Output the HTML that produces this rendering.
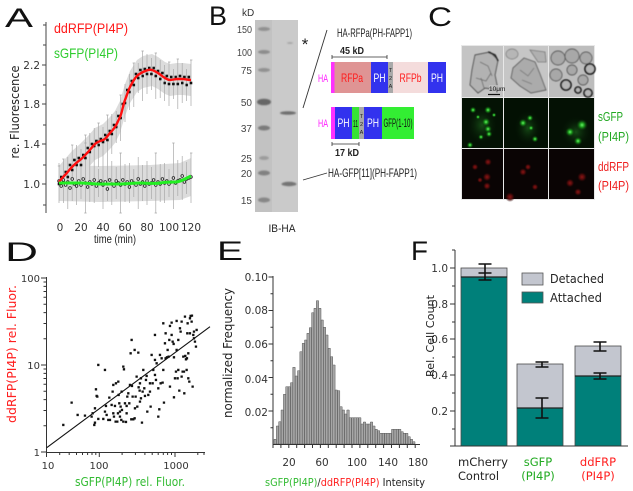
<!DOCTYPE html>
<html><head><meta charset="utf-8"><style>
html,body{margin:0;padding:0;background:#fff;}
svg{display:block;}
.t{font-family:"DejaVu Sans","Liberation Sans",sans-serif;}
.n{font-family:"Liberation Sans",sans-serif;}
.L{font-family:"Liberation Sans",sans-serif;font-size:27px;fill:#111;}
</style></head><body>
<svg width="633" height="491" viewBox="0 0 633 491" xmlns="http://www.w3.org/2000/svg">
<defs>
<marker id="sq" markerUnits="userSpaceOnUse" markerWidth="4" markerHeight="4" refX="1.3" refY="1.3"><rect x="0" y="0" width="2.6" height="2.6" fill="#111"/></marker>
<marker id="ci" markerUnits="userSpaceOnUse" markerWidth="5" markerHeight="5" refX="2" refY="2"><circle cx="2" cy="2" r="1.3" fill="#fff" stroke="#222" stroke-width="0.8"/></marker>
<radialGradient id="gg"><stop offset="0" stop-color="#66ee66"/><stop offset="0.35" stop-color="#1fa01f"/><stop offset="1" stop-color="#062806" stop-opacity="0"/></radialGradient>
<radialGradient id="gh"><stop offset="0" stop-color="#1a5a1a" stop-opacity="0.8"/><stop offset="1" stop-color="#041204" stop-opacity="0"/></radialGradient>
<radialGradient id="rr"><stop offset="0" stop-color="#a01818"/><stop offset="0.5" stop-color="#5a0c0c"/><stop offset="1" stop-color="#200505" stop-opacity="0"/></radialGradient>
<filter id="bl"><feGaussianBlur stdDeviation="0.7"/></filter>
<filter id="bl2"><feGaussianBlur stdDeviation="0.5"/></filter>
</defs>
<rect width="633" height="491" fill="#fff"/>

<!-- ===== Panel A ===== -->
<text class="L" x="5" y="27" textLength="28" lengthAdjust="spacingAndGlyphs">A</text>
<polygon fill="#dcdcdc" points="59,166 65,159 72,151 80,144 88,136 95,128 103,124 110,117 115,111 120,101 125,84 130,71 137,60 143,56 152,54 158,57 165,62 170,64 177,63 183,63 191,64 191,96 183,95 177,95 170,96 165,94 158,89 152,86 143,88 137,92 130,103 125,116 120,133 115,143 110,149 103,156 95,160 88,168 80,176 72,183 65,191 59,198"/>
<polygon fill="#dcdcdc" points="59,165 100,166 150,165 180,163 191,158 191,196 180,200 150,201 100,202 59,201"/>
<path fill="none" stroke="#a8a8a8" stroke-width="0.7" d="M59 166V202M63.4 159V203M67.8 162V192M72.2 145V195M76.6 145V185M81 149V181M85.4 135V181M89.8 133V171M94.2 128V164M98.6 123V167M103 127V157M107.4 115V165M111.8 114V154M116.2 111V143M120.6 95V141M125 84V122M129.4 74V110M133.8 63V107M138.2 63V93M142.6 51V101M147 54V94M151.4 58V90M155.8 53V99M160.2 60V98M164.6 65V101M169 62V106M173.4 69V99M177.8 59V109M182.2 63V103M186.6 69V101M191 60V106
M57.8 166h2.4M62.2 159h2.4M71 145h2.4M84.2 135h2.4M97.4 123h2.4M106.2 115h2.4M119.4 95h2.4M132.6 63h2.4M141.4 51h2.4M154.6 53h2.4M168 62h2.4M176.6 59h2.4M190 60h2.4
M59 163V203M63.4 169V197M67.8 157V209M72.2 165V201M76.6 161V205M81 167V199M85.4 143V213M89.8 164V202M94.2 163V203M98.6 169V197M103 157V209M107.4 165V201M111.8 161V205M116.2 167V199M120.6 153V213M125 164V202M129.4 163V203M133.8 169V197M138.2 157V209M142.6 165V201M147 161V205M151.4 167V199M155.8 153V213M160.2 164V202M164.6 163V203M169 169V197M173.4 143V209M177.8 160V196M182.2 156V200M186.6 162V194M191 153V203
M84.2 143h2.4M119.4 153h2.4M154.6 153h2.4M172.2 143h2.4M190 153h2.4M84.2 213h2.4M119.4 213h2.4M154.6 213h2.4"/>
<path fill="none" stroke="none" marker-start="url(#sq)" marker-mid="url(#sq)" marker-end="url(#sq)" d="M59 184L61.2 177L63.4 181L65.6 172L67.8 177L70 165L72.2 170L74.4 160L76.6 165L78.8 158L81 165L83.2 155L85.4 158L87.6 148L89.8 152L92 144L94.2 146L96.4 141L98.6 145L100.8 139L103 142L105.2 135L107.4 140L109.6 131L111.8 134L114 125L116.2 127L118.4 116L120.6 118L122.8 104L125 103L127.2 90L129.4 92L131.6 81L133.8 85L136 74L138.2 78L140.4 70L142.6 76L144.8 69L147 74L149.2 68L151.4 74L153.6 68L155.8 76L158 71L160.2 79L162.4 73L164.6 83L166.8 76L169 84L171.2 77L173.4 84L175.6 77L177.8 84L180 76L182.2 83L184.4 77L186.6 85L188.8 77L191 83"/>
<path fill="none" stroke="none" marker-start="url(#ci)" marker-mid="url(#ci)" marker-end="url(#ci)" d="M59 181L61.2 186L63.4 180L65.6 185L67.8 182L70 188L72.2 179L74.4 184L76.6 186L78.8 181L81 185L83.2 179L85.4 183L87.6 187L89.8 182L92 184L94.2 180L96.4 186L98.6 183L100.8 181L103 185L105.2 182L107.4 189L109.6 180L111.8 184L114 186L116.2 181L118.4 183L120.6 185L122.8 180L125 184L127.2 182L129.4 187L131.6 181L133.8 183L136 185L138.2 179L140.4 184L142.6 182L144.8 186L147 181L149.2 184L151.4 183L153.6 180L155.8 185L158 182L160.2 184L162.4 179L164.6 183L166.8 181L169 184L171.2 182L173.4 178L175.6 183L177.8 181L180 180L182.2 176L184.4 182L186.6 179L188.8 178L191 177"/>
<path fill="none" stroke="#ff1010" stroke-width="2.4" stroke-linejoin="round" d="M59 182C62 178 63 177 65 175S70 169 72 167S77 162 80 160S86 154 88 152S93 146 95 144S100 141 103 140S108 135 110 133S113 130 115 127S118 121 120 117S123 105 125 100S128 91 130 87S135 78 137 76S141 73 143 72S149 69 152 70S156 72 158 73S163 77 165 78S168 80 170 80S175 79 177 79S181 79 183 79S188 80 191 80"/>
<path fill="none" stroke="#22ee22" stroke-width="3" d="M59 183C70 183 75 183 80 183S95 184 100 184S115 184 120 184S135 183 140 183S155 184 160 183S172 182 175 182S183 180 185 179S189 177 191 176"/>
<path fill="none" stroke="#444" stroke-width="1" d="M46 22V213M42 65h4M42 104h4M42 144h4M42 184h4M43 25h3M43 45h3M43 85h3M43 125h3M43 165h3M43 205h3"/>
<g class="t" font-size="10.5" text-anchor="end" fill="#333"><text x="40" y="69">2.2</text><text x="40" y="108">1.8</text><text x="40" y="148">1.4</text><text x="40" y="188">1.0</text></g>
<g class="t" font-size="10.5" text-anchor="middle" fill="#333"><text x="60" y="231">0</text><text x="81" y="231">20</text><text x="103" y="231">40</text><text x="125" y="231">60</text><text x="147" y="231">80</text><text x="169" y="231">100</text><text x="191" y="231">120</text></g>
<text class="n" x="115" y="243" font-size="12" text-anchor="middle" fill="#222" textLength="42" lengthAdjust="spacingAndGlyphs">time (min)</text>
<text class="t" transform="translate(19,112) rotate(-90)" font-size="12.5" text-anchor="middle" textLength="93" lengthAdjust="spacingAndGlyphs" fill="#222">re. Fluorescence</text>
<text class="n" x="54" y="33" font-size="14" fill="#ff1a1a" textLength="74" lengthAdjust="spacingAndGlyphs">ddRFP(PI4P)</text>
<text class="n" x="54" y="58" font-size="14" fill="#2ecc2e" textLength="64" lengthAdjust="spacingAndGlyphs">sGFP(PI4P)</text>

<!-- ===== Panel B ===== -->
<text class="L" x="209" y="25" textLength="18" lengthAdjust="spacingAndGlyphs">B</text>
<text class="n" x="242" y="16" font-size="10" fill="#333">kD</text>
<g class="n" font-size="10" fill="#444" text-anchor="end">
<text x="252" y="33" textLength="15" lengthAdjust="spacingAndGlyphs">150</text>
<text x="252" y="56" textLength="15" lengthAdjust="spacingAndGlyphs">100</text>
<text x="252" y="74">75</text><text x="252" y="106">50</text><text x="252" y="132">37</text>
<text x="252" y="162">25</text><text x="252" y="177">20</text><text x="252" y="204">15</text></g>
<rect x="255" y="20" width="43" height="192" fill="#cacaca"/>
<rect x="255" y="20" width="17" height="192" fill="#c2c2c2"/>
<g fill="#555" filter="url(#bl)">
<ellipse cx="264" cy="29" rx="6" ry="2" opacity="0.45"/>
<ellipse cx="264" cy="52" rx="6" ry="2" opacity="0.5"/>
<ellipse cx="264" cy="70" rx="6" ry="2" opacity="0.45"/>
<ellipse cx="264" cy="102" rx="7" ry="3.3" opacity="0.85"/>
<ellipse cx="264" cy="128" rx="6" ry="2.5" opacity="0.65"/>
<ellipse cx="264" cy="158" rx="5" ry="2" opacity="0.35"/>
<ellipse cx="264" cy="173" rx="6" ry="2.5" opacity="0.6"/>
<ellipse cx="264" cy="200" rx="6" ry="2.5" opacity="0.55"/>
<ellipse cx="288" cy="113" rx="8" ry="1.8" opacity="0.8"/>
<ellipse cx="289" cy="184" rx="7.5" ry="2.2" opacity="0.75"/>
<ellipse cx="290" cy="43" rx="3" ry="1" opacity="0.3"/>
</g>
<text x="305" y="50" font-family="Liberation Sans,sans-serif" font-size="17" text-anchor="middle" fill="#222">*</text>
<path stroke="#333" stroke-width="0.9" d="M303 108L327 30M303 180L327 173"/>
<text class="n" x="337" y="37" font-size="12" fill="#222" textLength="75" lengthAdjust="spacingAndGlyphs">HA-RFPa(PH-FAPP1)</text>
<path stroke="#333" stroke-width="0.8" fill="none" d="M332 57H387M332 55v4M387 55v4M332 144H359M332 142v4M359 142v4"/>
<text class="n" x="352" y="54" font-size="10" font-weight="bold" text-anchor="middle" fill="#222" textLength="24" lengthAdjust="spacingAndGlyphs">45 kD</text>
<text class="n" x="347" y="156" font-size="10" font-weight="bold" text-anchor="middle" fill="#222" textLength="24" lengthAdjust="spacingAndGlyphs">17 kD</text>
<rect x="331" y="62" width="3.5" height="31" fill="#ff30ff"/>
<rect x="334.5" y="62" width="36.5" height="31" fill="#df9494"/>
<rect x="371" y="62" width="17" height="31" fill="#3232ee"/>
<rect x="388" y="62" width="5" height="31" fill="#a9a9a9"/>
<rect x="393" y="62" width="35" height="31" fill="#f4dcdc"/>
<rect x="428" y="62" width="18" height="31" fill="#3232ee"/>
<g class="n" font-size="12" text-anchor="middle">
<text x="318" y="82" fill="#ff20ff" font-size="11" text-anchor="start" textLength="10" lengthAdjust="spacingAndGlyphs">HA</text>
<text x="352" y="82" fill="#ff1a1a" textLength="22" lengthAdjust="spacingAndGlyphs">RFPa</text>
<text x="379.5" y="82" fill="#fff" textLength="12" lengthAdjust="spacingAndGlyphs">PH</text>
<text x="410.5" y="82" fill="#ff1a1a" textLength="22" lengthAdjust="spacingAndGlyphs">RFPb</text>
<text x="437" y="82" fill="#fff" textLength="12" lengthAdjust="spacingAndGlyphs">PH</text></g>
<g class="n" font-size="5.5" fill="#222" text-anchor="middle"><text x="390.5" y="72">T</text><text x="390.5" y="80">2</text><text x="390.5" y="88">A</text></g>
<rect x="331" y="107" width="4" height="32" fill="#ff30ff"/>
<rect x="335" y="107" width="17" height="32" fill="#3232ee"/>
<rect x="352" y="107" width="7" height="32" fill="#36e236"/>
<rect x="359" y="107" width="5" height="32" fill="#a9a9a9"/>
<rect x="364" y="107" width="18" height="32" fill="#3232ee"/>
<rect x="382" y="107" width="32" height="32" fill="#33ee33"/>
<g class="n" font-size="12" text-anchor="middle">
<text x="318" y="127" fill="#ff20ff" font-size="11" text-anchor="start" textLength="10" lengthAdjust="spacingAndGlyphs">HA</text>
<text x="343.5" y="127" fill="#fff" textLength="12" lengthAdjust="spacingAndGlyphs">PH</text>
<text x="355.5" y="127" fill="#111" font-size="10" textLength="5" lengthAdjust="spacingAndGlyphs">11</text>
<text x="373" y="127" fill="#fff" textLength="12" lengthAdjust="spacingAndGlyphs">PH</text>
<text x="398" y="127" fill="#111" textLength="29" lengthAdjust="spacingAndGlyphs">GFP(1-10)</text></g>
<g class="n" font-size="5.5" fill="#222" text-anchor="middle"><text x="361.5" y="118">T</text><text x="361.5" y="126">2</text><text x="361.5" y="134">A</text></g>
<text class="n" x="328" y="177" font-size="12" fill="#222" textLength="89" lengthAdjust="spacingAndGlyphs">HA-GFP[11](PH-FAPP1)</text>
<text class="n" x="282" y="232" font-size="11" text-anchor="middle" fill="#222" textLength="27" lengthAdjust="spacingAndGlyphs">IB-HA</text>

<!-- ===== Panel C ===== -->
<text class="L" x="428" y="26" textLength="24" lengthAdjust="spacingAndGlyphs">C</text>
<rect x="461" y="45" width="134" height="155" fill="#e8e8e8"/>
<rect x="462" y="46" width="41" height="51" fill="#c4c4c4"/>
<rect x="504" y="46" width="44" height="51" fill="#c6c6c6"/>
<rect x="549" y="46" width="45" height="51" fill="#bdbdbd"/>
<g filter="url(#bl2)">
<polygon points="475,55 490,52 498,60 495,75 498,90 485,88 478,93 470,85 472,70" fill="#b2b2b2" stroke="#444" stroke-width="0.9"/>
<path d="M480 62l8 4l4 10M476 78l10 3l5 -8M484 88l-3 -10" stroke="#666" stroke-width="0.8" fill="none"/>
<path d="M488 52l7 3l3 6" stroke="#222" stroke-width="1.6" fill="none"/>
<polygon points="513,68 524,58 535,62 540,74 546,90 531,93 520,86 511,78" fill="#ababab" stroke="#5a5a5a" stroke-width="0.9"/>
<path d="M520 70l8 6l6 -8M522 80l10 4" stroke="#777" stroke-width="0.8" fill="none"/>
<polygon points="530,50 545,52 546,62 538,62" fill="#b0b0b0" stroke="#777" stroke-width="0.8"/>
<ellipse cx="512" cy="54" rx="6" ry="5" fill="#b6b6b6" stroke="#777" stroke-width="0.7"/>
<g stroke="#555" stroke-width="0.9" fill="#a8a8a8">
<circle cx="558" cy="58" r="7"/><circle cx="572" cy="56" r="7"/><circle cx="586" cy="58" r="6"/>
<circle cx="556" cy="75" r="6"/><circle cx="583" cy="80" r="5"/><circle cx="572" cy="70" r="5"/>
</g>
<g stroke="#111" stroke-width="1.6" fill="#b5b5b5">
<circle cx="590" cy="69" r="5"/><circle cx="566" cy="85" r="5"/><circle cx="588" cy="93" r="4"/><circle cx="578" cy="90" r="3"/>
</g>
</g>
<rect x="489" y="85" width="14" height="8" fill="#c4c4c4" opacity="0.7"/>
<text class="n" x="489" y="91" font-size="6.5" fill="#111">10μm</text>
<path d="M488 94.5h12" stroke="#111" stroke-width="1.2"/>
<rect x="462" y="98" width="41" height="50" fill="#041204"/>
<rect x="504" y="98" width="44" height="50" fill="#031003"/>
<rect x="549" y="98" width="45" height="50" fill="#041104"/>
<g fill="url(#gh)">
<ellipse cx="482" cy="125" rx="16" ry="20"/><ellipse cx="528" cy="128" rx="14" ry="18"/><ellipse cx="576" cy="132" rx="16" ry="16"/>
</g>
<g fill="url(#gg)">
<circle cx="473" cy="110" r="3.5"/><circle cx="488" cy="110" r="4"/><circle cx="486" cy="122" r="4.5"/><circle cx="488" cy="129" r="4"/><circle cx="489" cy="134" r="3.5"/><circle cx="470" cy="145" r="3.5"/><circle cx="481" cy="137" r="3"/><circle cx="478" cy="117" r="2.5"/><circle cx="494" cy="115" r="2.5"/>
<circle cx="523" cy="123" r="4.5"/><circle cx="530" cy="118" r="3.5"/><circle cx="531" cy="128" r="3"/><circle cx="535" cy="139" r="3.5"/>
<circle cx="582" cy="125" r="6"/><circle cx="570" cy="132" r="5"/><circle cx="578" cy="141" r="4.5"/>
</g>
<rect x="462" y="149" width="41" height="50" fill="#0a0404"/>
<rect x="504" y="149" width="44" height="50" fill="#0a0404"/>
<rect x="549" y="149" width="45" height="50" fill="#0a0404"/>
<g fill="url(#rr)" opacity="0.85">
<circle cx="488" cy="162" r="4"/><circle cx="487" cy="177" r="4.5"/><circle cx="487" cy="186" r="4"/><circle cx="475" cy="167" r="3.5"/><circle cx="480" cy="180" r="3"/>
<circle cx="523" cy="172" r="4"/><circle cx="528" cy="167" r="3.5"/><circle cx="535" cy="187" r="3.5"/><circle cx="510" cy="197" r="5"/>
<circle cx="582" cy="177" r="5"/><circle cx="570" cy="183" r="4.5"/><circle cx="578" cy="192" r="4"/>
</g>
<g class="n" font-size="13">
<text x="598" y="121" fill="#22a822" textLength="25" lengthAdjust="spacingAndGlyphs">sGFP</text>
<text x="598" y="141" fill="#22a822" textLength="31" lengthAdjust="spacingAndGlyphs">(PI4P)</text>
<text x="598" y="171" fill="#ee2020" textLength="31" lengthAdjust="spacingAndGlyphs">ddRFP</text>
<text x="598" y="190" fill="#ee2020" textLength="31" lengthAdjust="spacingAndGlyphs">(PI4P)</text></g>

<!-- ===== Panel D ===== -->
<text class="L" x="5" y="261" textLength="33" lengthAdjust="spacingAndGlyphs">D</text>
<path fill="none" stroke="#333" stroke-width="1" d="M46.5 277V452.5H205
M41 278h5.5M41 365h5.5M41 452h5.5
M43.5 425.8h3M43.5 410.5h3M43.5 399.6h3M43.5 391.2h3M43.5 384.3h3M43.5 378.5h3M43.5 373.4h3M43.5 369h3
M43.5 338.8h3M43.5 323.5h3M43.5 312.6h3M43.5 304.2h3M43.5 297.3h3M43.5 291.5h3M43.5 286.4h3M43.5 282h3
M46.5 452v5M99.3 452v5M175 452v5
M59.7 452v3M69.2 452v3M76.5 452v3M82.5 452v3M87.6 452v3M92 452v3M95.8 452v3
M122.1 452v3M135.4 452v3M144.9 452v3M152.2 452v3M158.2 452v3M163.3 452v3M167.6 452v3M171.5 452v3M197.8 452v3M204 452v3"/>
<g class="t" font-size="10" text-anchor="end" fill="#333"><text x="40" y="282">100</text><text x="40" y="369">10</text><text x="40" y="456">1</text></g>
<g class="t" font-size="10" text-anchor="middle" fill="#333"><text x="48" y="469">10</text><text x="99" y="469">100</text><text x="176" y="469">1000</text></g>
<path d="M46.7 447.7L210 326.7" stroke="#111" stroke-width="1.1"/>
<g transform="translate(38.8,268.8) scale(0.33333)">
<path fill="#111" d="M70 465h7v7h-7zM95 398h7v7h-7zM113 435h7v7h-7zM135 437h7v7h-7zM155 440h7v7h-7zM158 430h7v7h-7zM163 465h7v7h-7zM165 458h7v7h-7zM165 415h7v7h-7zM168 358h7v7h-7zM170 378h7v7h-7zM172 380h7v7h-7zM175 285h7v7h-7zM175 447h7v7h-7zM190 447h7v7h-7zM195 300h7v7h-7zM195 425h7v7h-7zM198 408h7v7h-7zM205 450h7v7h-7zM208 383h7v7h-7zM210 450h7v7h-7zM215 405h7v7h-7zM218 365h7v7h-7zM220 345h7v7h-7zM220 430h7v7h-7zM222 440h7v7h-7zM228 340h7v7h-7zM225 408h7v7h-7zM227 455h7v7h-7zM232 455h7v7h-7zM234 430h7v7h-7zM235 335h7v7h-7zM236 375h7v7h-7zM238 400h7v7h-7zM242 410h7v7h-7zM240 440h7v7h-7zM244 450h7v7h-7zM245 365h7v7h-7zM246 420h7v7h-7zM250 290h7v7h-7zM252 298h7v7h-7zM250 455h7v7h-7zM255 400h7v7h-7zM258 456h7v7h-7zM260 408h7v7h-7zM262 380h7v7h-7zM265 370h7v7h-7zM268 400h7v7h-7zM270 345h7v7h-7zM272 250h7v7h-7zM274 448h7v7h-7zM275 210h7v7h-7zM276 348h7v7h-7zM278 380h7v7h-7zM280 448h7v7h-7zM284 445h7v7h-7zM284 240h7v7h-7zM287 380h7v7h-7zM290 320h7v7h-7zM292 410h7v7h-7zM295 248h7v7h-7zM296 352h7v7h-7zM299 362h7v7h-7zM300 340h7v7h-7zM303 325h7v7h-7zM303 385h7v7h-7zM306 458h7v7h-7zM308 365h7v7h-7zM310 300h7v7h-7zM313 355h7v7h-7zM315 378h7v7h-7zM318 330h7v7h-7zM320 318h7v7h-7zM322 425h7v7h-7zM325 375h7v7h-7zM330 340h7v7h-7zM332 410h7v7h-7zM335 255h7v7h-7zM338 340h7v7h-7zM340 300h7v7h-7zM345 195h7v7h-7zM345 270h7v7h-7zM345 315h7v7h-7zM348 330h7v7h-7zM350 280h7v7h-7zM355 355h7v7h-7zM355 440h7v7h-7zM358 418h7v7h-7zM362 340h7v7h-7zM365 265h7v7h-7zM368 338h7v7h-7zM370 300h7v7h-7zM372 398h7v7h-7zM370 160h7v7h-7zM375 220h7v7h-7zM377 265h7v7h-7zM377 190h7v7h-7zM381 262h7v7h-7zM383 240h7v7h-7zM386 260h7v7h-7zM388 210h7v7h-7zM390 350h7v7h-7zM390 168h7v7h-7zM395 158h7v7h-7zM398 215h7v7h-7zM401 222h7v7h-7zM402 382h7v7h-7zM402 262h7v7h-7zM405 325h7v7h-7zM408 305h7v7h-7zM410 153h7v7h-7zM410 240h7v7h-7zM413 325h7v7h-7zM415 300h7v7h-7zM418 362h7v7h-7zM420 175h7v7h-7zM422 185h7v7h-7zM425 155h7v7h-7zM425 320h7v7h-7zM428 305h7v7h-7zM430 260h7v7h-7zM432 305h7v7h-7zM433 370h7v7h-7zM435 140h7v7h-7zM436 258h7v7h-7zM438 268h7v7h-7zM441 265h7v7h-7zM442 190h7v7h-7zM443 160h7v7h-7zM445 325h7v7h-7zM445 250h7v7h-7zM448 335h7v7h-7zM450 190h7v7h-7zM450 145h7v7h-7zM452 138h7v7h-7zM456 137h7v7h-7zM455 155h7v7h-7zM458 350h7v7h-7zM460 195h7v7h-7zM462 185h7v7h-7zM462 205h7v7h-7zM465 215h7v7h-7zM468 230h7v7h-7zM470 180h7v7h-7zM395 195h7v7h-7zM360 255h7v7h-7zM300 395h7v7h-7zM260 430h7v7h-7zM200 435h7v7h-7zM240 425h7v7h-7zM285 415h7v7h-7zM330 365h7v7h-7zM415 210h7v7h-7zM440 300h7v7h-7z"/>
</g>
<text class="t" transform="translate(16,354) rotate(-90)" font-size="12" text-anchor="middle" fill="#ff2020" textLength="138" lengthAdjust="spacingAndGlyphs">ddRFP(PI4P) rel. Fluor.</text>
<text class="t" x="130" y="486" font-size="12" text-anchor="middle" fill="#33bb33" textLength="110" lengthAdjust="spacingAndGlyphs">sGFP(PI4P) rel. Fluor.</text>

<!-- ===== Panel E ===== -->
<text class="L" x="217" y="260" textLength="26" lengthAdjust="spacingAndGlyphs">E</text>
<path fill="#a6a6a6" stroke="#5a5a5a" stroke-width="0.5" d="M274 444V439.3h2.35V444zM276.35 444V426h2.35V444zM278.7 444V421.7h2.35V444zM281.05 444V410h2.35V444zM283.4 444V394.3h2.35V444zM285.75 444V386.7h2.35V444zM288.1 444V386.7h2.35V444zM290.45 444V382.7h2.35V444zM292.8 444V367.3h2.35V444zM295.15 444V376h2.35V444zM297.5 444V370.7h2.35V444zM299.85 444V351.7h2.35V444zM302.2 444V343.3h2.35V444zM304.55 444V340h2.35V444zM306.9 444V333.3h2.35V444zM309.25 444V327.7h2.35V444zM311.6 444V312.7h2.35V444zM313.95 444V308.3h2.35V444zM316.3 444V300.7h2.35V444zM318.65 444V308.3h2.35V444zM321 444V320h2.35V444zM323.35 444V327.3h2.35V444zM325.7 444V335h2.35V444zM328.05 444V348.3h2.35V444zM330.4 444V356.7h2.35V444zM332.75 444V365h2.35V444zM335.1 444V390h2.35V444zM337.45 444V390.7h2.35V444zM339.8 444V406.7h2.35V444zM342.15 444V410h2.35V444zM344.5 444V414h2.35V444zM346.85 444V410h2.35V444zM349.2 444V417.7h2.35V444zM351.55 444V417.7h2.35V444zM353.9 444V417.7h2.35V444zM356.25 444V417.7h2.35V444zM358.6 444V417.7h2.35V444zM360.95 444V424h2.35V444zM363.3 444V422h2.35V444zM365.65 444V424h2.35V444zM368 444V424h2.35V444zM370.35 444V422h2.35V444zM372.7 444V426h2.35V444zM375.05 444V429.3h2.35V444zM377.4 444V430.7h2.35V444zM379.75 444V433.3h2.35V444zM382.1 444V433.3h2.35V444zM384.45 444V433.3h2.35V444zM386.8 444V433.3h2.35V444zM389.15 444V433.3h2.35V444zM391.5 444V429.3h2.35V444zM393.85 444V429.3h2.35V444zM396.2 444V429.3h2.35V444zM398.55 444V429.3h2.35V444zM400.9 444V431.7h2.35V444zM403.25 444V433.3h2.35V444zM405.6 444V433.3h2.35V444zM407.95 444V436.7h2.35V444zM410.3 444V439.3h2.35V444zM412.65 444V441.7h2.35V444z"/>
<path fill="none" stroke="#333" stroke-width="1" d="M273 276V444.5H420
M268.5 277h4.5M268.5 310.5h4.5M268.5 344h4.5M268.5 377.5h4.5M268.5 411h4.5
M270.5 293.7h2.5M270.5 327.2h2.5M270.5 360.7h2.5M270.5 394.2h2.5M270.5 427.7h2.5
M273 444v4M280.9 444v4M288.8 444v4M296.7 444v4M304.6 444v4M312.5 444v4M320.4 444v4M328.3 444v4M336.2 444v4M344.1 444v4M352 444v4M359.9 444v4M367.8 444v4M375.7 444v4M383.6 444v4M391.5 444v4M399.4 444v4M407.3 444v4M415.2 444v4"/>
<g class="t" font-size="10.5" text-anchor="end" fill="#333"><text x="268" y="281">0.10</text><text x="268" y="314">0.08</text><text x="268" y="348">0.06</text><text x="268" y="383">0.04</text><text x="268" y="416">0.02</text></g>
<g class="t" font-size="10.5" text-anchor="middle" fill="#333"><text x="289" y="466">20</text><text x="322" y="466">60</text><text x="357" y="466">100</text><text x="388" y="466">140</text><text x="418" y="466">180</text></g>
<text class="t" transform="translate(232,353) rotate(-90)" font-size="12" text-anchor="middle" fill="#222" textLength="130" lengthAdjust="spacingAndGlyphs">normalized Frequency</text>
<text class="t" x="265" y="486" font-size="11" fill="#222" textLength="160" lengthAdjust="spacingAndGlyphs"><tspan fill="#33bb33">sGFP(PI4P)</tspan><tspan fill="#222">/</tspan><tspan fill="#ff2020">ddRFP(PI4P)</tspan><tspan fill="#222"> Intensity</tspan></text>

<!-- ===== Panel F ===== -->
<text class="L" x="411" y="260" textLength="17" lengthAdjust="spacingAndGlyphs">F</text>
<g stroke="#4a4a4a" stroke-width="0.8">
<rect x="461" y="268" width="46" height="9" fill="#c3c6cf"/>
<rect x="461" y="277" width="46" height="169" fill="#00807a"/>
<rect x="517" y="364" width="46" height="44" fill="#c3c6cf"/>
<rect x="517" y="408" width="46" height="38" fill="#00807a"/>
<rect x="575" y="346" width="46" height="30" fill="#c3c6cf"/>
<rect x="575" y="376" width="46" height="70" fill="#00807a"/>
</g>
<path d="M461 277h46M517 408h46M575 376h46" stroke="#222" stroke-width="1.2"/>
<path fill="none" stroke="#111" stroke-width="1.6" d="M485 264V280M478.5 264h13M478.5 273h13M478.5 280h13
M542 362V367M535.5 362h13M535.5 367h13M542 398V418M535.5 398h13M535.5 418h13
M600 342V351M593.5 342h13M593.5 351h13M600 373V379M593.5 373h13M593.5 379h13"/>
<path fill="none" stroke="#333" stroke-width="1" d="M455 250V446H628
M450 268h5M450 304h5M450 339h5M450 375h5M450 411h5M450 446h5
M452 286h3M452 322h3M452 357h3M452 393h3M452 429h3M452 250h3"/>
<g class="t" font-size="10.5" text-anchor="end" fill="#333"><text x="448" y="272">1.0</text><text x="448" y="308">0.8</text><text x="448" y="343">0.6</text><text x="448" y="379">0.4</text><text x="448" y="415">0.2</text></g>
<rect x="522" y="273" width="21" height="12" fill="#c3c6cf" stroke="#555" stroke-width="0.8"/>
<rect x="522" y="292" width="21" height="11" fill="#00807a" stroke="#555" stroke-width="0.8"/>
<g class="t" font-size="12" fill="#222"><text x="550" y="283" textLength="54" lengthAdjust="spacingAndGlyphs">Detached</text><text x="550" y="302" textLength="52" lengthAdjust="spacingAndGlyphs">Attached</text></g>
<text class="t" transform="translate(434,336) rotate(-90)" font-size="11" text-anchor="middle" fill="#222" textLength="82" lengthAdjust="spacingAndGlyphs">Rel. Cell Count</text>
<g class="t" font-size="11.5">
<text x="458" y="466" fill="#222" textLength="50" lengthAdjust="spacingAndGlyphs">mCherry</text>
<text x="458" y="480" fill="#222" textLength="41" lengthAdjust="spacingAndGlyphs">Control</text>
<text x="538" y="466" fill="#22aa22" text-anchor="middle">sGFP</text>
<text x="538" y="480" fill="#22aa22" text-anchor="middle">(PI4P)</text>
<text x="598" y="466" fill="#ff2020" text-anchor="middle">ddFRP</text>
<text x="598" y="480" fill="#ff2020" text-anchor="middle">(PI4P)</text>
</g>
</svg>
</body></html>
